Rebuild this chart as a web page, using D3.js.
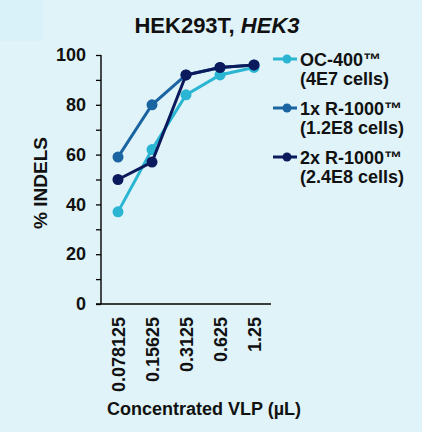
<!DOCTYPE html>
<html>
<head>
<meta charset="utf-8">
<script src="https://cdn.jsdelivr.net/npm/d3@7"></script>
<style>
  html, body { margin: 0; padding: 0; background: #e0f3f8; }
  svg { display: block; font-family: Arial, "Liberation Sans", sans-serif; font-weight: bold; }
</style>
</head>
<body>
<svg id="chart" width="422" height="432"></svg>
<script>
// Values
const doses = ['0.078125', '0.15625', '0.3125', '0.625', '1.25'];
const oc400 = [37, 62, 84, 92, 95];
const r1000x1 = [59, 80, 92, 95, 96];
const r1000x2 = [50, 57, 92, 95, 96];
const seriesNames = [['OC-400\u2122', '(4E7 cells)'], ['1x R-1000\u2122', '(1.2E8 cells)'], ['2x R-1000\u2122', '(2.4E8 cells)']];
const seriesColors = ['#2ab6d3', '#1a64a1', '#0b1a5c'];
const yTicks = [0, 20, 40, 60, 80, 100];

const series = [oc400, r1000x1, r1000x2].map((vals, i) => ({
  name: seriesNames[i],
  color: seriesColors[i],
  values: vals.map((v, j) => ({ dose: doses[j], v: v }))
}));

const svg = d3.select('#chart');
const fontFamily = 'Arial, "Liberation Sans", sans-serif';

// faint box in the top-left corner of the original slide
svg.append('rect')
  .attr('x', 0).attr('y', 0).attr('width', 43).attr('height', 41)
  .attr('fill', '#d9f1f8');

const plotLeft = 101, plotRight = 271, plotTop = 55, plotBottom = 304;

const x = d3.scalePoint()
  .domain(doses)
  .range([plotLeft, plotRight])
  .padding(0.5);

const y = d3.scaleLinear()
  .domain([0, 100])
  .range([plotBottom, plotTop]);

// Title
const title = svg.append('text')
  .attr('x', 217)
  .attr('y', 33)
  .attr('text-anchor', 'middle')
  .attr('font-size', '22px')
  .attr('fill', '#111');
title.append('tspan').text('HEK293T, ');
title.append('tspan').attr('font-style', 'italic').text('HEK3');

// Y axis with minor ticks
const yAxis = svg.append('g')
  .attr('transform', `translate(${plotLeft},0)`)
  .call(d3.axisLeft(y).tickValues(d3.range(0, 101, 10)).tickSize(5).tickFormat(d => yTicks.includes(d) ? d : ''));
yAxis.select('.domain').attr('stroke', '#000').attr('stroke-width', 1.4).attr('d', `M0,${plotTop}V${plotBottom}`);
yAxis.selectAll('line').attr('stroke', '#000').attr('stroke-width', 1.3);
yAxis.selectAll('text')
  .attr('x', -15)
  .attr('font-size', '18px')
  .attr('font-family', fontFamily)
  .attr('font-weight', 'bold')
  .attr('fill', '#111');

// X axis
const xAxis = svg.append('g')
  .attr('transform', `translate(0,${plotBottom})`)
  .call(d3.axisBottom(x).tickSize(0));
xAxis.select('.domain').attr('stroke', '#000').attr('stroke-width', 1.4).attr('d', `M${plotLeft - 5},0H${plotRight}`);
xAxis.selectAll('text')
  .attr('transform', 'rotate(-90)')
  .attr('text-anchor', 'end')
  .attr('x', -13)
  .attr('y', 0)
  .attr('dy', '0.35em')
  .attr('font-size', '18px')
  .attr('font-family', fontFamily)
  .attr('font-weight', 'bold')
  .attr('fill', '#111');

// Axis titles
svg.append('text')
  .attr('transform', 'rotate(-90)')
  .attr('x', -183)
  .attr('y', 47)
  .attr('text-anchor', 'middle')
  .attr('font-size', '19px')
  .attr('fill', '#111')
  .text('% INDELS');

svg.append('text')
  .attr('x', 204)
  .attr('y', 415)
  .attr('text-anchor', 'middle')
  .attr('font-size', '18px')
  .attr('fill', '#111')
  .text('Concentrated VLP (\u00b5L)');

// Lines and markers
const line = d3.line()
  .x(d => x(d.dose))
  .y(d => y(d.v));

series.forEach(s => {
  svg.append('path')
    .datum(s.values)
    .attr('fill', 'none')
    .attr('stroke', s.color)
    .attr('stroke-width', 3)
    .attr('d', line);

  svg.selectAll(null)
    .data(s.values)
    .enter()
    .append('circle')
    .attr('cx', d => x(d.dose))
    .attr('cy', d => y(d.v))
    .attr('r', 5.5)
    .attr('fill', s.color);
});

// Legend
const legend = svg.append('g')
  .attr('transform', 'translate(273,59)');

const items = legend.selectAll('.legend-item')
  .data(series)
  .enter()
  .append('g')
  .attr('class', 'legend-item')
  .attr('transform', (d, i) => `translate(0, ${i * 49})`);

items.append('line')
  .attr('x1', 0).attr('x2', 24)
  .attr('y1', 0).attr('y2', 0)
  .attr('stroke', d => d.color)
  .attr('stroke-width', 3);

items.append('circle')
  .attr('cx', 14).attr('cy', 0).attr('r', 4.5)
  .attr('fill', d => d.color);

items.append('text')
  .attr('x', 27)
  .attr('y', 7)
  .attr('font-size', '18px')
  .attr('fill', '#111')
  .text(d => d.name[0]);

items.append('text')
  .attr('x', 27)
  .attr('y', 26)
  .attr('font-size', '18px')
  .attr('fill', '#111')
  .text(d => d.name[1]);
</script>
</body>
</html>
